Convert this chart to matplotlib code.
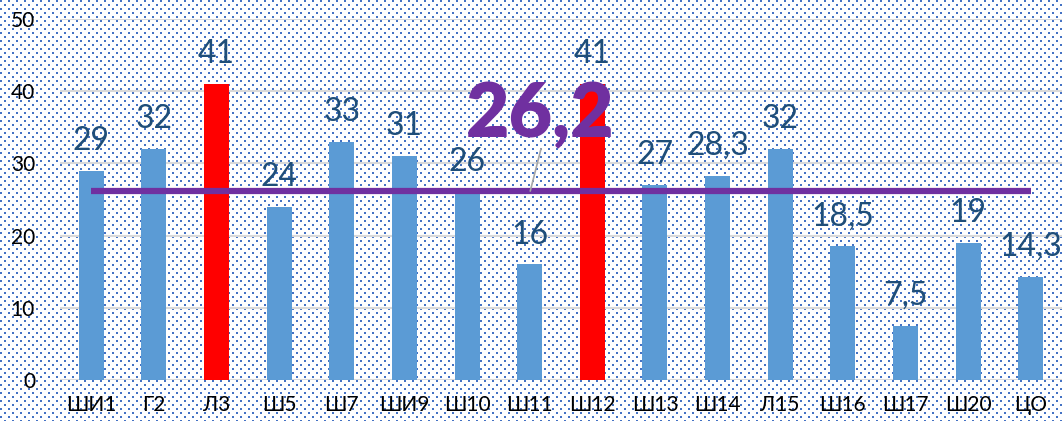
import numpy as np
import matplotlib.pyplot as plt

schools = ["ШИ1", "Г2", "Л3", "Ш5", "Ш7", "ШИ9", "Ш10", "Ш11", "Ш12",
           "Ш13", "Ш14", "Л15", "Ш16", "Ш17", "Ш20", "ЦО"]
values = [29, 32, 41, 24, 33, 31, 26, 16, 41, 27, 28.3, 32, 18.5, 7.5, 19, 14.3]
labels = ["29", "32", "41", "24", "33", "31", "26", "16", "41", "27", "28,3",
          "32", "18,5", "7,5", "19", "14,3"]
highlight = ["Л3", "Ш12"]
mean_value = 26.2
mean_label = "26,2"

plt.rcParams["font.family"] = ["Lato", "DejaVu Sans"]

W, H = 1062, 421
fig = plt.figure(figsize=(W / 100, H / 100), dpi=100)

# dotted fill behind the chart
bg = np.ones((H, W, 3))
dot = np.array([0x44, 0x72, 0xC4]) / 255
yy, xx = np.mgrid[0:H, 0:W]
mask = ((yy % 8 < 2) & (xx % 8 < 2)) | (((yy - 4) % 8 < 2) & ((xx - 4) % 8 < 2))
bg[mask] = dot
fig.figimage(bg, xo=0, yo=0, zorder=-5)

ax = fig.add_axes([60 / W, (H - 380) / H, 1 - 60 / W, 361 / H])
ax.patch.set_alpha(0)

x = np.arange(len(schools))
colors = ["#FF0000" if s in highlight else "#5B9BD5" for s in schools]
ax.bar(x, values, width=0.4, color=colors, zorder=3)

for xi, v, lab in zip(x, values, labels):
    ax.annotate(lab, (xi, v), xytext=(0, 15), textcoords="offset points",
                ha="center", va="baseline", fontsize=23, color="#1F4E79", zorder=5)

# average line across all schools
ax.plot([x[0], x[-1]], [mean_value, mean_value], color="#7030A0", lw=4.5,
        solid_capstyle="butt", zorder=4)
ax.plot([7.01, 7.18], [mean_value, 32.0], color="#A6A6A6", lw=1.2, zorder=4)
ax.text(7.17, 36.7, mean_label, ha="center", va="center", fontsize=54,
        fontweight="heavy", color="#7030A0", zorder=6)

ax.set_xlim(-0.5, len(schools) - 0.5)
ax.set_ylim(0, 50)
ax.set_yticks(range(0, 51, 10))
ax.set_xticks(x)
ax.set_xticklabels(schools)
ax.tick_params(axis="both", length=0, labelsize=15, colors="black")
ax.tick_params(axis="y", pad=18)
ax.tick_params(axis="x", pad=11)
ax.grid(axis="y", color="#D9D9D9", lw=1.5, zorder=1)
for s in ax.spines.values():
    s.set_visible(False)

fig.savefig("out.png", dpi=100)
